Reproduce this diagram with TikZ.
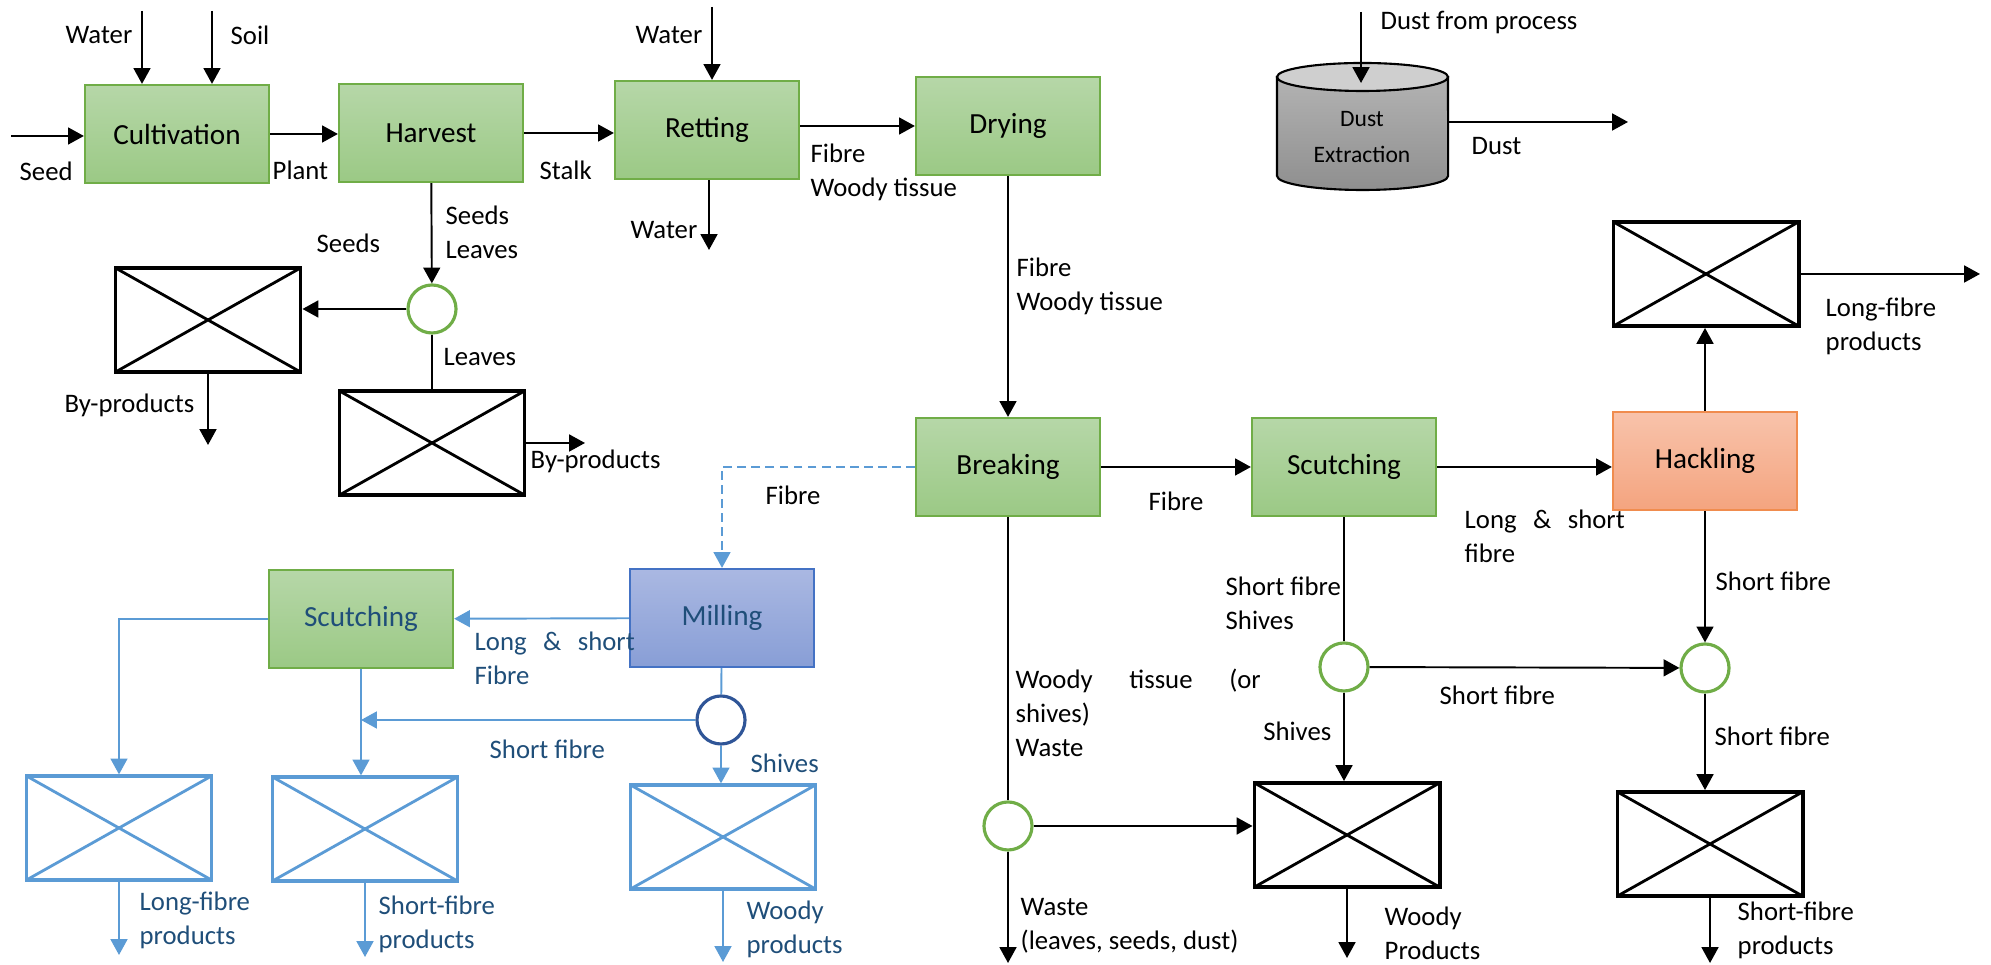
\documentclass[tikz,border=0pt]{standalone}
\usepackage{fontspec}
\setmainfont{Carlito}
\usetikzlibrary{arrows.meta}

\definecolor{procline}{HTML}{70AD47}
\definecolor{proctop}{HTML}{B6D7A8}
\definecolor{procbot}{HTML}{9BC985}
\definecolor{hacktop}{HTML}{F8C3AB}
\definecolor{hackbot}{HTML}{F4A47F}
\definecolor{hackline}{HTML}{F08C4E}
\definecolor{milltop}{HTML}{AAB8E2}
\definecolor{millbot}{HTML}{889ED6}
\definecolor{millline}{HTML}{4472C4}
\definecolor{flowblue}{HTML}{5B9BD5}
\definecolor{textblue}{HTML}{1F4E79}
\definecolor{navy}{HTML}{2F5597}

\tikzset{
  proc/.style={draw=procline, line width=0.6pt, top color=proctop, bottom color=procbot,
    minimum width=1.84cm, minimum height=0.98cm, font=\fontsize{8.3}{10}\selectfont},
  prod/.style={draw, line width=1.1pt, minimum width=1.85cm, minimum height=1.04cm,
    path picture={\draw[line width=0.8pt]
      (path picture bounding box.north west) -- (path picture bounding box.south east)
      (path picture bounding box.north east) -- (path picture bounding box.south west);}},
  bprod/.style={prod, color=flowblue, line width=0.9pt},
  split/.style={circle, draw=procline, line width=0.9pt, minimum size=0.48cm, inner sep=0pt},
  lbl/.style={inner sep=0pt, align=left, font=\fontsize{7.6}{9.7}\selectfont},
  blbl/.style={lbl, text=textblue},
  flow/.style={line width=0.55pt, -{Triangle[length=4.5pt,width=4.8pt]}},
  bflow/.style={flow, draw=flowblue},
}

\begin{document}
\begin{tikzpicture}[x=0.01cm, y=-0.01cm]
  \useasboundingbox (0,0) rectangle (1991,965);

  % process steps
  \node[proc] (cult) at (177,134) {Cultivation};
  \node[proc] (harv) at (431,133) {Harvest};
  \node[proc] (ret) at (707,130) {Retting};
  \node[proc] (dry) at (1008,126) {Drying};
  \node[proc] (brk) at (1008,467) {Breaking};
  \node[proc] (scut) at (1344,467) {Scutching};
  \node[proc, draw=hackline, top color=hacktop, bottom color=hackbot] (hack) at (1705,461) {Hackling};
  \node[proc, draw=millline, top color=milltop, bottom color=millbot, text=textblue] (mill) at (722,618) {Milling};
  \node[proc, text=textblue] (scut2) at (361,619) {Scutching};

  % products
  \node[prod] (bp1) at (208,320) {};
  \node[prod] (bp2) at (432,443) {};
  \node[prod] (lf) at (1706,274) {};
  \node[prod] (wd) at (1347,835) {};
  \node[prod] (sf) at (1710,844) {};
  \node[bprod] (blf) at (119,828) {};
  \node[bprod] (bsf) at (365,829) {};
  \node[bprod] (bw) at (723,837) {};

  % splitters
  \node[split] (s1) at (432,309) {};
  \node[split] (s2) at (1344,667) {};
  \node[split] (s3) at (1705,668) {};
  \node[split] (s4) at (1008,826) {};
  \node[split, draw=navy] (bs) at (721,720) {};

  % dust extraction drum
  \draw[line width=0.6pt, top color=gray!60, bottom color=gray!88]
    (1277,77) -- (1277,176) arc[start angle=180, end angle=360, x radius=0.855cm, y radius=0.14cm]
    -- (1448,77) -- cycle;
  \draw[line width=0.6pt, fill=gray!38] (1362.5,77) ellipse[x radius=0.855cm, y radius=0.14cm];
  \node[align=center, inner sep=0pt, minimum width=1.71cm, font=\fontsize{6.7}{10.2}\selectfont] (dust) at (1362,137) {Dust\\Extraction};

  % inputs and main line
  \coordinate (watin) at (142,11);
  \coordinate (soilin) at (212,11);
  \coordinate (seedin) at (11,136);
  \draw[flow] (watin) -- (watin |- cult.north);
  \draw[flow] (soilin) -- (soilin |- cult.north);
  \draw[flow] (seedin) -- (seedin -| cult.west);
  \draw[flow] (cult.east) -- (cult.east -| harv.west);
  \draw[flow] (harv.east) -- (harv.east -| ret.west);
  \coordinate (retin) at (712,7);
  \coordinate (retout) at (709,250);
  \draw[flow] (retin) -- (retin |- ret.north);
  \draw[flow] (retout |- ret.south) -- (retout);
  \draw[flow] (dry.west -| ret.east) -- (dry.west);
  \draw[flow] (dry) -- (brk);

  % harvest residues
  \coordinate (bp1out) at (208,445);
  \coordinate (bp2out) at (585,443);
  \draw[flow] (harv) -- (s1);
  \draw[flow] (s1) -- (s1 -| bp1.east);
  \draw[flow] (bp1) -- (bp1out);
  \draw[line width=0.55pt] (s1) -- (bp2);
  \draw[flow] (bp2) -- (bp2out);

  % dust
  \coordinate (dustin) at (1361,12);
  \coordinate (dusttop) at (1361,83);
  \coordinate (dustout) at (1628,122);
  \draw[flow] (dustin) -- (dusttop);
  \draw[flow] (dustout -| dust.east) -- (dustout);

  % fibre line
  \coordinate (lfout) at (1980,274);
  \coordinate (wasteout) at (1008,963);
  \coordinate (wdout) at (1347,958);
  \coordinate (sfout) at (1710,963);
  \draw[flow] (brk) -- (scut);
  \draw[flow] (scut.east) -- (scut.east -| hack.west);
  \draw[flow] (hack) -- (hack |- lf.south);
  \draw[flow] (lf) -- (lfout);
  \draw[flow] (hack) -- (s3);
  \draw[line width=0.55pt] (scut) -- (s2);
  \draw[flow] (s2) -- (s3);
  \draw[flow] (s2) -- (s2 |- wd.north);
  \draw[flow] (s3) -- (s3 |- sf.north);
  \draw[line width=0.55pt] (brk) -- (s4);
  \draw[flow] (s4) -- (s4 -| wd.west);
  \draw[flow] (s4) -- (wasteout);
  \draw[flow] (wd) -- (wdout);
  \draw[flow] (sf) -- (sfout);

  % milling route
  \coordinate (blfout) at (119,955);
  \coordinate (bsfout) at (365,957);
  \coordinate (bwout) at (723,962);
  \draw[bflow, dash pattern=on 2.5pt off 1.5pt] (brk.west) -| (mill.north);
  \draw[bflow] (mill) -- (scut2);
  \draw[bflow] (scut2.west) -| (blf.north);
  \draw[line width=0.55pt, flowblue] (mill) -- (bs);
  \draw[bflow] (bs) -- (bs -| scut2);
  \draw[bflow] (scut2) -- (scut2 |- bsf.north);
  \draw[bflow] (bs) -- (bs |- bw.north);
  \draw[bflow] (blf) -- (blfout);
  \draw[bflow] (bsf) -- (bsfout);
  \draw[bflow] (bw) -- (bwout);

  % labels
  \node[lbl, anchor=east] (lwat1) at (133,35) {Water};
  \node[lbl, anchor=west] (lsoil) at (230,35) {Soil};
  \node[lbl, anchor=west] (lseed) at (19,171) {Seed};
  \node[lbl, anchor=west] (lplant) at (272,170) {Plant};
  \node[lbl, anchor=west] (lstalk) at (539,170) {Stalk};
  \node[lbl, anchor=east] (lwat2) at (703,35) {Water};
  \node[lbl, anchor=east] (lwat3) at (698,230) {Water};
  \node[lbl, anchor=west] (lret) at (810,172) {Fibre\\Woody tissue};
  \node[lbl, anchor=west] (ldry) at (1016,286) {Fibre\\Woody tissue};
  \node[lbl, anchor=west] (lharv) at (445,232) {Seeds\\Leaves};
  \node[lbl, anchor=west] (lseeds) at (316,243) {Seeds};
  \node[lbl, anchor=east] (lbp1) at (195,405) {By-products};
  \node[lbl, anchor=west] (lleaves) at (443,357) {Leaves};
  \node[lbl, anchor=west] (lbp2) at (530,461) {By-products};
  \node[lbl, anchor=west] (ldust1) at (1380,23) {Dust from process};
  \node[lbl, anchor=west] (ldust2) at (1471,146) {Dust};
  \node[lbl, anchor=west] (lbrk) at (1148,501) {Fibre};
  \node[lbl, anchor=west, text width=1.6cm] (lscut) at (1464,536) {Long\hfill\&\hfill short\\fibre};
  \node[lbl, anchor=west] (llf) at (1825,326) {Long-fibre\\products};
  \node[lbl, anchor=west] (lhack) at (1715,581) {Short fibre};
  \node[lbl, anchor=west] (ls2) at (1225,603) {Short fibre\\Shives};
  \node[lbl, anchor=west] (ls23) at (1439,695) {Short fibre};
  \node[lbl, anchor=east] (lshv) at (1332,731) {Shives};
  \node[lbl, anchor=west] (ls3) at (1714,736) {Short fibre};
  \node[lbl, anchor=west, text width=2.45cm] (lwaste1) at (1015,713) {Woody\hfill tissue\hfill (or\\shives)\\Waste};
  \node[lbl, anchor=west] (lwaste2) at (1020,926) {Waste\\(leaves, seeds, dust)};
  \node[lbl, anchor=west] (lwood) at (1384,933) {Woody\\Products};
  \node[lbl, anchor=west] (lsf) at (1737,930) {Short-fibre\\products};
  \node[lbl, anchor=west] (lmill) at (765,495) {Fibre};
  \node[blbl, anchor=west, text width=1.6cm] (lmill2) at (474,658) {Long\hfill\&\hfill short\\Fibre};
  \node[blbl, anchor=west] (lbsf) at (489,749) {Short fibre};
  \node[blbl, anchor=west] (lbshv) at (750,763) {Shives};
  \node[blbl, anchor=west] (lblf) at (139,920) {Long-fibre\\products};
  \node[blbl, anchor=west] (lbsf2) at (378,924) {Short-fibre\\products};
  \node[blbl, anchor=west] (lbw) at (746,929) {Woody\\products};
\end{tikzpicture}
\end{document}
